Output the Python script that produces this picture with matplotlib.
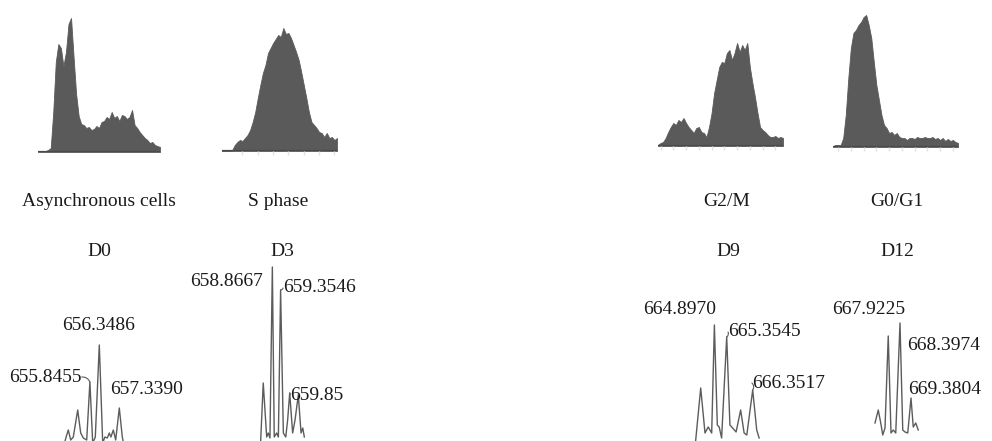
import matplotlib
matplotlib.use('Agg')
import matplotlib.pyplot as plt
import numpy as np

# flow cytometry histograms (counts per channel bin)
async_counts = [1, 1, 1, 1, 2, 4, 40, 90, 108, 104, 86, 100, 128, 134, 95, 58, 36, 28, 27, 24,
                25, 22, 23, 26, 24, 30, 31, 35, 33, 40, 34, 36, 31, 37, 36, 33, 35, 42, 27, 24,
                20, 17, 14, 12, 9, 10, 7, 6, 5]
sphase_counts = [0, 0, 0, 0, 1, 6, 9, 11, 10, 13, 16, 21, 29, 39, 53, 66, 78, 86, 98, 103,
                 108, 112, 116, 114, 123, 117, 118, 113, 106, 99, 91, 79, 66, 53, 39, 29, 26, 23, 19, 18,
                 14, 18, 13, 14, 11, 13]
g2m_counts = [1, 3, 4, 8, 14, 19, 23, 21, 26, 24, 28, 23, 19, 16, 13, 18, 19, 14, 13, 9,
              19, 33, 53, 66, 79, 84, 83, 93, 96, 86, 93, 103, 94, 101, 96, 103, 79, 63, 49, 33,
              19, 16, 14, 11, 9, 9, 10, 8, 9, 8]
g0g1_counts = [1, 2, 2, 2, 9, 32, 69, 99, 114, 117, 122, 125, 130, 132, 122, 109, 85, 62, 47, 32,
               22, 19, 14, 15, 12, 14, 10, 9, 9, 7, 9, 9, 8, 10, 9, 9, 10, 9, 9, 10,
               8, 9, 7, 9, 6, 8, 6, 7, 5, 4]
hist_names = ["Asynchronous cells", "S phase", "G2/M", "G0/G1"]

# mass spectra (m/z, relative intensity)
d0_mz = [654.55, 654.69, 654.80, 654.92, 655.05, 655.27, 655.42, 655.55, 655.72, 655.88, 656.02, 656.15,
         656.35, 656.52, 656.63, 656.75, 656.85, 656.93, 657.05, 657.17, 657.35, 657.50, 657.60]
d0_int = [-7, 4, 11, 1, 4, 31, 8, 3, 1, 59, -2, 4, 96, -2, 4, 3, 8, 4, 11, 1, 33, 4, -6]
d3_mz = [658.19, 658.34, 658.54, 658.63, 658.73, 658.87, 658.98, 659.12, 659.22, 659.35, 659.51, 659.65,
         659.76, 659.88, 660.05, 660.19, 660.38, 660.54, 660.64, 660.73]
d3_int = [0, 58, 4, 8, 3, 174, 4, 8, 4, 151, 8, 4, 21, 48, 8, 21, 46, 8, 13, 4]
d9_mz = [664.20, 664.39, 664.55, 664.67, 664.80, 664.90, 665.01, 665.08, 665.17, 665.36, 665.48, 665.58,
         665.71, 665.88, 666.01, 666.11, 666.33, 666.48, 666.57]
d9_int = [0, 53, 8, 14, 8, 116, 16, 14, 3, 104, 16, 13, 9, 31, 8, 6, 51, 11, 3]
d12_mz = [667.39, 667.52, 667.62, 667.70, 667.79, 667.92, 668.03, 668.12, 668.22, 668.39, 668.50, 668.59,
          668.70, 668.83, 668.92, 669.02, 669.12]
d12_int = [18, 31, 18, 6, 13, 105, 8, 11, 8, 118, 11, 9, 8, 43, 14, 18, 11]
day_names = ["D0", "D3", "D9", "D12"]
d0_labels = ["655.8455", "656.3486", "657.3390"]
d3_labels = ["658.8667", "659.3546", "659.85"]
d9_labels = ["664.8970", "665.3545", "666.3517"]
d12_labels = ["667.9225", "668.3974", "669.3804"]

W, H = 992, 441
HIST_COLOR = '#5a5a5a'
LINE_COLOR = '#5c5c5c'
TXT = '#1a1a1a'
FS = 14

plt.rcParams['font.family'] = ['Liberation Serif', 'DejaVu Serif']
fig = plt.figure(figsize=(W / 100, H / 100), dpi=100)


def box(x0, y0, x1, y1):
    # pixel box -> figure fraction rect
    return [x0 / W, 1 - y1 / H, (x1 - x0) / W, (y1 - y0) / H]


def draw_hist(counts, x0, x1, base, tick_start=None, tick_step=6):
    ax = fig.add_axes(box(x0, base - 140, x1, base))
    n = len(counts)
    x = np.arange(n)
    ax.fill_between(x, counts, color=HIST_COLOR, lw=0.6, edgecolor=HIST_COLOR)
    ax.axhline(0, color='#4a4a4a', lw=1.6)
    ax.set_xlim(0, n - 1)
    ax.set_ylim(0, 140)
    for s in ax.spines.values():
        s.set_visible(False)
    ax.set_yticks([])
    if tick_start is None:
        ax.set_xticks([])
    else:
        ax.set_xticks(np.arange(tick_start, n, tick_step))
        ax.tick_params(axis='x', colors='#e2e2e2', length=3, width=1, labelbottom=False)
    return ax


def draw_spec(mz, inten, x0, x1, lo, hi):
    ax = fig.add_axes(box(x0, 260, x1, 441))
    ax.plot(mz, inten, color=LINE_COLOR, lw=1.0)
    ax.set_xlim(lo, hi)
    ax.set_ylim(0, 181)
    ax.axis('off')
    return ax


def hook(ax, text, peak, pos, ha, relpos, rad):
    ax.annotate(text, xy=peak, xytext=pos, ha=ha, va='center', fontsize=FS, color=TXT,
                arrowprops=dict(arrowstyle='-', color=LINE_COLOR, lw=0.8, relpos=relpos,
                                patchA=None, shrinkA=0, shrinkB=0,
                                connectionstyle='arc3,rad=%s' % rad))


# top row: cell cycle histograms
draw_hist(async_counts, 38, 160, 152)
draw_hist(sphase_counts, 222, 337, 151, tick_start=8)
draw_hist(g2m_counts, 658, 783, 146, tick_start=1, tick_step=5)
draw_hist(g0g1_counts, 833, 958, 147, tick_start=2, tick_step=5)

for name, cx in zip(hist_names, [99, 278, 727, 897]):
    fig.text(cx / W, 1 - 202 / H, name, ha='center', va='center', fontsize=FS, color=TXT)
for name, cx in zip(day_names, [99, 282, 728, 897]):
    fig.text(cx / W, 1 - 252 / H, name, ha='center', va='center', fontsize=FS, color=TXT)

# bottom row: spectra
ax0 = draw_spec(d0_mz, d0_int, 40, 160, 653.385, 659.385)
hook(ax0, d0_labels[0], (655.88, 59), (655.47, 64), 'right', (1.0, 0.5), -0.35)
ax0.text(656.31, 115, d0_labels[1], ha='center', va='center', fontsize=FS, color=TXT)
ax0.text(656.88, 51, d0_labels[2], ha='left', va='center', fontsize=FS, color=TXT)

ax3 = draw_spec(d3_mz, d3_int, 200, 360, 654.66, 663.97)
ax3.text(658.33, 159, d3_labels[0], ha='right', va='center', fontsize=FS, color=TXT)
hook(ax3, d3_labels[1], (659.35, 151), (659.49, 153), 'left', (0.0, 0.5), -0.4)
hook(ax3, d3_labels[2], (659.88, 48), (659.93, 45), 'left', (0.0, 0.6), -0.4)

ax9 = draw_spec(d9_mz, d9_int, 660, 800, 662.871, 668.095)
ax9.text(663.62, 131, d9_labels[0], ha='center', va='center', fontsize=FS, color=TXT)
hook(ax9, d9_labels[1], (665.36, 104), (665.41, 109), 'left', (0.0, 0.5), -0.4)
hook(ax9, d9_labels[2], (666.33, 51), (666.30, 58), 'left', (0.0, 0.5), -0.4)

ax12 = draw_spec(d12_mz, d12_int, 840, 992, 665.99, 672.07)
ax12.text(667.15, 131, d12_labels[0], ha='center', va='center', fontsize=FS, color=TXT)
ax12.text(668.67, 95, d12_labels[1], ha='left', va='center', fontsize=FS, color=TXT)
ax12.text(668.71, 51, d12_labels[2], ha='left', va='center', fontsize=FS, color=TXT)

fig.savefig('out.png', dpi=100, facecolor='white')
